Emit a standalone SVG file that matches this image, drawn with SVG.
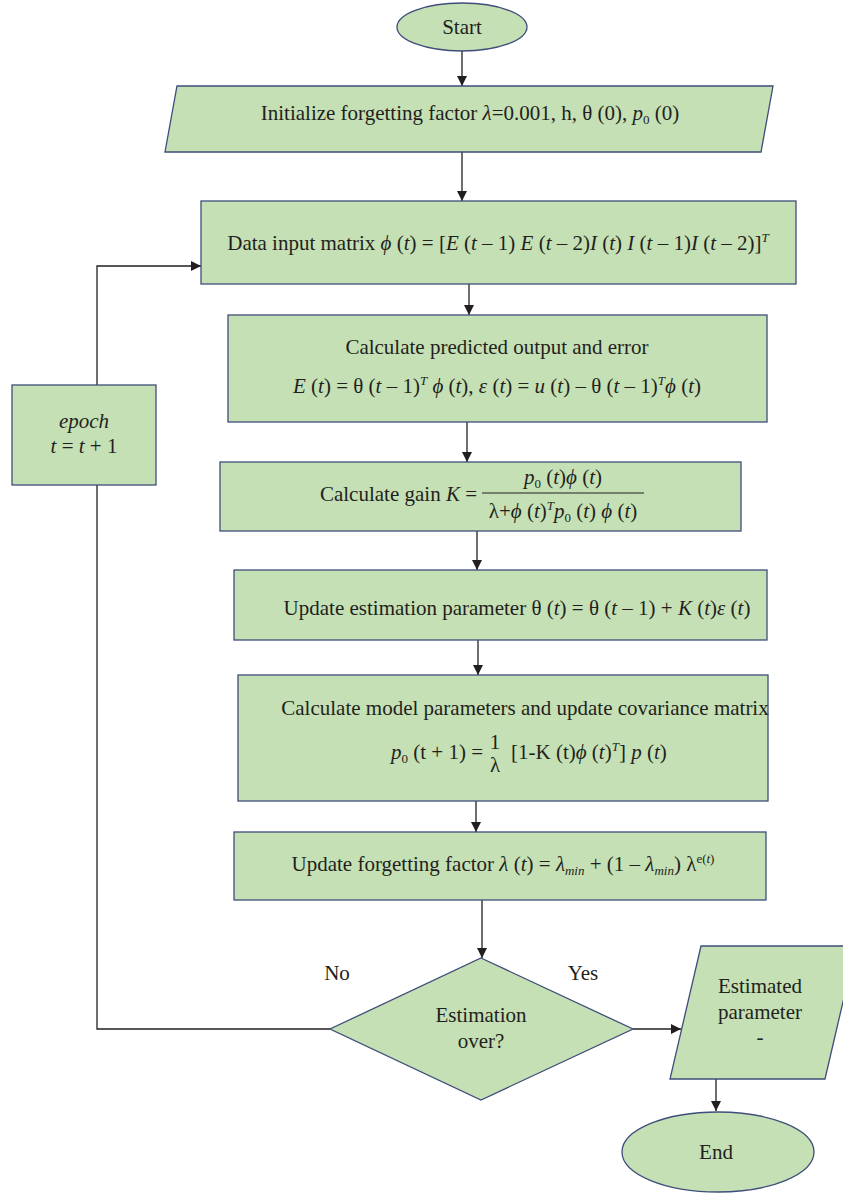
<svg xmlns="http://www.w3.org/2000/svg" width="843" height="1194" viewBox="0 0 843 1194">
  <style>
    .shape { fill: #c5e0b4; stroke: #3f4d7a; stroke-width: 1.3; }
    .lbl { font-family: "Liberation Serif", "Times New Roman", serif; font-size: 21px; fill: #231f20; }
    .mid { text-anchor: middle; }
    .i { font-style: italic; }
    .sub { font-size: 13px; baseline-shift: -4px; }
    .sup { font-size: 13px; baseline-shift: 8px; }
    .wire { fill: none; stroke: #231f20; stroke-width: 1.3; }
  </style>
  <defs>
    <marker id="arrow" viewBox="0 0 10 10" refX="10" refY="5" markerWidth="10" markerHeight="10" markerUnits="userSpaceOnUse" orient="auto">
      <path d="M0,0 L10,5 L0,10 Z" fill="#231f20"/>
    </marker>
  </defs>

  <rect width="843" height="1194" fill="#ffffff"/>

  <!-- connectors -->
  <g id="connectors">
    <line class="wire" x1="462" y1="51" x2="462" y2="86" marker-end="url(#arrow)"/>
    <line class="wire" x1="462" y1="152" x2="462" y2="201" marker-end="url(#arrow)"/>
    <line class="wire" x1="469" y1="284" x2="469" y2="315" marker-end="url(#arrow)"/>
    <line class="wire" x1="467" y1="422" x2="467" y2="462" marker-end="url(#arrow)"/>
    <line class="wire" x1="477" y1="531" x2="477" y2="570" marker-end="url(#arrow)"/>
    <line class="wire" x1="478" y1="640" x2="478" y2="675" marker-end="url(#arrow)"/>
    <line class="wire" x1="476" y1="801" x2="476" y2="832" marker-end="url(#arrow)"/>
    <line class="wire" x1="482" y1="900" x2="482" y2="958" marker-end="url(#arrow)"/>
    <!-- "No" branch back to the epoch counter -->
    <polyline class="wire" points="330,1029 97,1029 97,485"/>
    <!-- epoch counter back into the data input step -->
    <polyline class="wire" points="97,385 97,266 201,266" marker-end="url(#arrow)"/>
    <!-- "Yes" branch -->
    <line class="wire" x1="633" y1="1029" x2="681" y2="1029" marker-end="url(#arrow)"/>
    <line class="wire" x1="716" y1="1079" x2="716" y2="1111" marker-end="url(#arrow)"/>
  </g>

  <g id="start">
    <ellipse class="shape" cx="462" cy="27" rx="65" ry="24"/>
    <text class="lbl mid" x="462" y="34">Start</text>
  </g>

  <g id="init">
    <polygon class="shape" points="177,86 773,86 761,152 165,152"/>
    <text class="lbl mid" x="470" y="120">Initialize forgetting factor <tspan class="i">λ</tspan>=0.001, h, θ (0), <tspan class="i">p</tspan><tspan class="sub">0</tspan> (0)</text>
  </g>

  <g id="data-input">
    <rect class="shape" x="201" y="201" width="595" height="83"/>
    <text class="lbl mid" x="498" y="250">Data input matrix <tspan class="i">ϕ</tspan> (<tspan class="i">t</tspan>) = [<tspan class="i">E</tspan> (<tspan class="i">t</tspan> – 1) <tspan class="i">E</tspan> (<tspan class="i">t</tspan> – 2)<tspan class="i">I</tspan> (<tspan class="i">t</tspan>) <tspan class="i">I</tspan> (<tspan class="i">t</tspan> – 1)<tspan class="i">I</tspan> (<tspan class="i">t</tspan> – 2)]<tspan class="sup i">T</tspan></text>
  </g>

  <g id="predict">
    <rect class="shape" x="228" y="315" width="539" height="107"/>
    <text class="lbl mid" x="497" y="354">Calculate predicted output and error</text>
    <text class="lbl mid" x="497" y="393"><tspan class="i">E</tspan> (<tspan class="i">t</tspan>) = θ (<tspan class="i">t</tspan> – 1)<tspan class="sup i">T</tspan> <tspan class="i">ϕ</tspan> (<tspan class="i">t</tspan>), <tspan class="i">ε</tspan> (<tspan class="i">t</tspan>) = <tspan class="i">u</tspan> (<tspan class="i">t</tspan>) – θ (<tspan class="i">t</tspan> – 1)<tspan class="sup i">T</tspan><tspan class="i">ϕ</tspan> (<tspan class="i">t</tspan>)</text>
  </g>

  <g id="gain">
    <rect class="shape" x="220" y="462" width="521" height="69"/>
    <text class="lbl" x="477" y="501" text-anchor="end">Calculate gain <tspan class="i">K</tspan> =</text>
    <text class="lbl mid" x="563" y="484"><tspan class="i">p</tspan><tspan class="sub">0</tspan> (<tspan class="i">t</tspan>)<tspan class="i">ϕ</tspan> (<tspan class="i">t</tspan>)</text>
    <line x1="482" y1="493" x2="644" y2="493" stroke="#231f20" stroke-width="1"/>
    <text class="lbl mid" x="563" y="518">λ+<tspan class="i">ϕ</tspan> (<tspan class="i">t</tspan>)<tspan class="sup i">T</tspan><tspan class="i">p</tspan><tspan class="sub">0</tspan> (<tspan class="i">t</tspan>) <tspan class="i">ϕ</tspan> (<tspan class="i">t</tspan>)</text>
  </g>

  <g id="update-theta">
    <rect class="shape" x="234" y="570" width="533" height="70"/>
    <text class="lbl mid" x="517" y="615">Update estimation parameter θ (<tspan class="i">t</tspan>) = θ (<tspan class="i">t</tspan> – 1) + <tspan class="i">K</tspan> (<tspan class="i">t</tspan>)<tspan class="i">ε</tspan> (<tspan class="i">t</tspan>)</text>
  </g>

  <g id="covariance">
    <rect class="shape" x="238" y="675" width="530" height="126"/>
    <text class="lbl mid" x="525" y="715">Calculate model parameters and update covariance matrix</text>
    <text class="lbl" x="483" y="759" text-anchor="end"><tspan class="i">p</tspan><tspan class="sub">0</tspan> (t + 1) =</text>
    <!-- stacked 1 over lambda, printed without a bar -->
    <text class="lbl mid" x="495" y="749">1</text>
    <text class="lbl mid" x="495" y="772">λ</text>
    <text class="lbl" x="511" y="759">[1-K (t)<tspan class="i">ϕ</tspan> (<tspan class="i">t</tspan>)<tspan class="sup i">T</tspan>] <tspan class="i">p</tspan> (<tspan class="i">t</tspan>)</text>
  </g>

  <g id="forgetting">
    <rect class="shape" x="234" y="832" width="532" height="68"/>
    <text class="lbl mid" x="503" y="871">Update forgetting factor <tspan class="i">λ</tspan> (<tspan class="i">t</tspan>) = <tspan class="i">λ</tspan><tspan class="sub i">min</tspan> + (1 – <tspan class="i">λ</tspan><tspan class="sub i">min</tspan>) λ<tspan class="sup">e(<tspan class="i">t</tspan>)</tspan></text>
  </g>

  <g id="decision">
    <polygon class="shape" points="481,958 633,1029 481,1100 330,1029"/>
    <text class="lbl mid" x="481" y="1022">Estimation</text>
    <text class="lbl mid" x="481" y="1048">over?</text>
  </g>

  <g id="branch-labels">
    <text class="lbl mid" x="337" y="980">No</text>
    <text class="lbl mid" x="583" y="980">Yes</text>
  </g>

  <g id="epoch">
    <rect class="shape" x="12" y="385" width="144" height="100"/>
    <text class="lbl mid i" x="84" y="428">epoch</text>
    <text class="lbl mid" x="84" y="453"><tspan class="i">t</tspan> = <tspan class="i">t</tspan> + 1</text>
  </g>

  <g id="output">
    <polygon class="shape" points="701,946 856,946 825,1079 670,1079"/>
    <text class="lbl mid" x="760" y="993">Estimated</text>
    <text class="lbl mid" x="760" y="1019">parameter</text>
    <text class="lbl mid" x="760" y="1044">-</text>
  </g>

  <g id="end">
    <ellipse class="shape" cx="718" cy="1152" rx="96" ry="40"/>
    <text class="lbl mid" x="716" y="1159">End</text>
  </g>
</svg>
